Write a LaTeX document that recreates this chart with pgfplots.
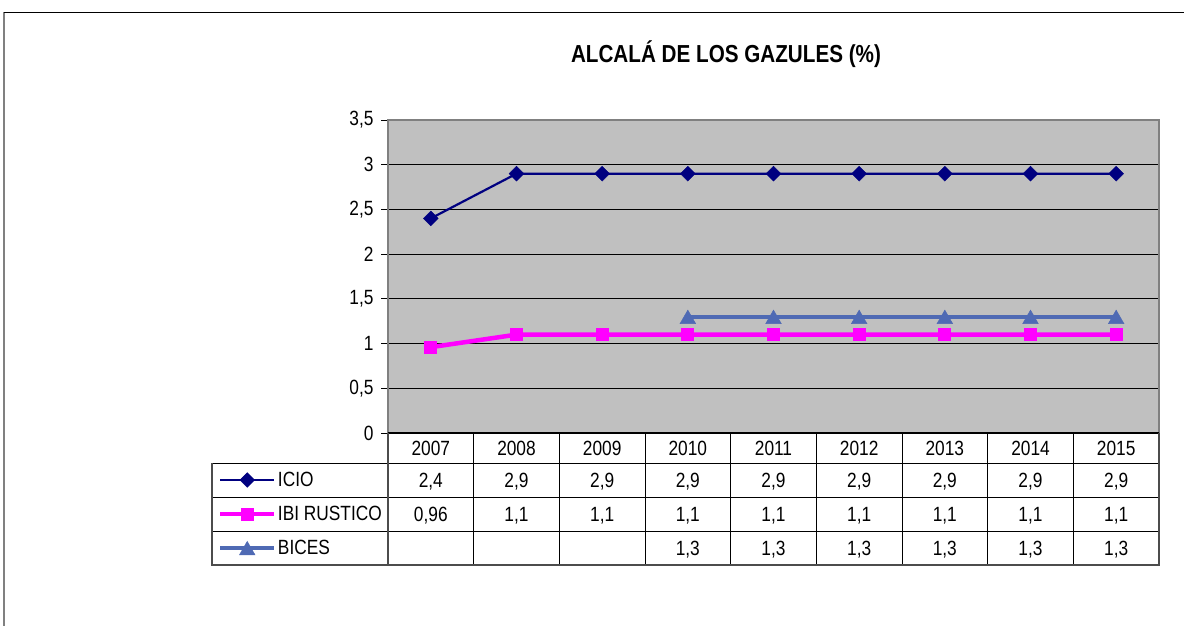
\documentclass[border=0pt]{standalone}
\usepackage{pgfplots}
\pgfplotsset{compat=1.18}
\usepackage{pgfplotstable}
\usepackage{fontspec}
\setmainfont{Liberation Sans}[FakeStretch=0.84]
\definecolor{plotgray}{RGB}{192,192,192}
\definecolor{icio}{RGB}{0,0,128}
\definecolor{ibi}{RGB}{255,0,255}
\definecolor{bices}{RGB}{79,106,180}
\definecolor{framegray}{RGB}{128,128,128}
\newcommand\tfont{\fontsize{20.6}{24}\selectfont}

\pgfplotstableread{
year icio ibi bices
2007 2.4 0.96 nan
2008 2.9 1.1 nan
2009 2.9 1.1 nan
2010 2.9 1.1 1.3
2011 2.9 1.1 1.3
2012 2.9 1.1 1.3
2013 2.9 1.1 1.3
2014 2.9 1.1 1.3
2015 2.9 1.1 1.3
}\datatable

\begin{document}
\begin{tikzpicture}
\path[use as bounding box] (0pt,0pt) rectangle (1184pt,-625pt);
\draw[framegray, line width=1.5pt] (4pt,-626pt) -- (4pt,-12pt);
\draw[black, line width=1pt] (4pt,-12pt) -- (1185pt,-12pt);
\begin{axis}[
  at={(388pt,-433pt)}, anchor=south west,
  width=771pt, height=313pt, scale only axis,
  xmin=-0.5, xmax=8.5, ymin=0, ymax=3.5,
  xtick=\empty,
  ytick={0,0.5,1,1.5,2,2.5,3,3.5},
  /pgf/number format/assume math mode=true,
  yticklabel style={/pgf/number format/use comma, font=\tfont, xshift=-4pt},
  ytick pos=left, tick align=outside, major tick length=7pt,
  tick style={black, line width=1pt},
  ymajorgrids, grid style={black, line width=1pt},
  axis background/.style={fill=plotgray},
  axis line style={framegray, line width=2pt},
  clip=false,
  title={ALCALÁ DE LOS GAZULES (\%)},
  title style={at={(0.4384,1.1917)}, anchor=center, font=\fontsize{24.6}{28}\selectfont\bfseries},
  legend style={at={(-0.2205,-0.09585)}, anchor=north west, draw=none, fill=none,
    inner sep=0pt, outer sep=0pt, row sep=0pt, column sep=0pt, font=\tfont,
    nodes={inner sep=0pt, minimum height=34pt},
    /tikz/every odd column/.append style={column sep=1.5pt}},
  legend cell align=left,
  legend image code/.code={\draw[mark repeat=2,mark phase=2] plot coordinates {(0pt,0pt)(27pt,0pt)(54pt,0pt)};},
]
\addplot[icio, line width=2.2pt, mark=square*, mark size=5.2pt,
  mark options={rotate=45, line width=0.5pt, solid}]
  table[x expr=\thisrow{year}-2007, y=icio]{\datatable};
\addlegendentry{ICIO}
\addplot[ibi, line width=4.5pt, mark=square*, mark size=6pt,
  mark options={line width=1pt, solid}]
  table[x expr=\thisrow{year}-2007, y=ibi]{\datatable};
\addlegendentry{IBI RUSTICO}
\addplot[bices, line width=4.5pt, mark=triangle*, mark size=9pt,
  mark options={line width=0.5pt, solid, yshift=-2.4pt}]
  table[x expr=\thisrow{year}-2007, y=bices]{\datatable};
\addlegendentry{BICES}
\draw[black, line width=1.5pt] (axis cs:-0.5,0) -- (axis cs:8.5,0);
\end{axis}
% data table grid
\foreach \k in {1,...,8}
  \draw[black, line width=1pt] ({388pt+85.667pt*\k},-433pt) -- ({388pt+85.667pt*\k},-565pt);
\foreach \y in {463,497,531}
  \draw[black, line width=1pt] (212pt,-\y pt) -- (1159pt,-\y pt);
\draw[black!70, line width=1.2pt] (388pt,-433pt) -- (388pt,-463pt);
\draw[black!70, line width=1.2pt] (388pt,-463pt) -- (388pt,-565pt);
\draw[black!70, line width=1.2pt] (212pt,-463pt) -- (212pt,-565pt) -- (1159pt,-565pt) -- (1159pt,-433pt);
% data table text
\foreach \k in {0,...,8}{
  \pgfplotstablegetelem{\k}{year}\of\datatable
  \node[font=\tfont, anchor=base, inner sep=0pt] at ({430.83pt+85.667pt*\k},-455.5pt) {\pgfplotsretval};
  \pgfplotstablegetelem{\k}{icio}\of\datatable
  \node[font=\tfont, anchor=base, inner sep=0pt] at ({430.83pt+85.667pt*\k},-487.2pt) {\pgfmathprintnumber[use comma, assume math mode=true]{\pgfplotsretval}};
  \pgfplotstablegetelem{\k}{ibi}\of\datatable
  \node[font=\tfont, anchor=base, inner sep=0pt] at ({430.83pt+85.667pt*\k},-521.2pt) {\pgfmathprintnumber[use comma, assume math mode=true]{\pgfplotsretval}};
  \ifnum\k>2
  \pgfplotstablegetelem{\k}{bices}\of\datatable
  \node[font=\tfont, anchor=base, inner sep=0pt] at ({430.83pt+85.667pt*\k},-555.2pt) {\pgfmathprintnumber[use comma, assume math mode=true]{\pgfplotsretval}};
  \fi
}
\end{tikzpicture}
\end{document}
